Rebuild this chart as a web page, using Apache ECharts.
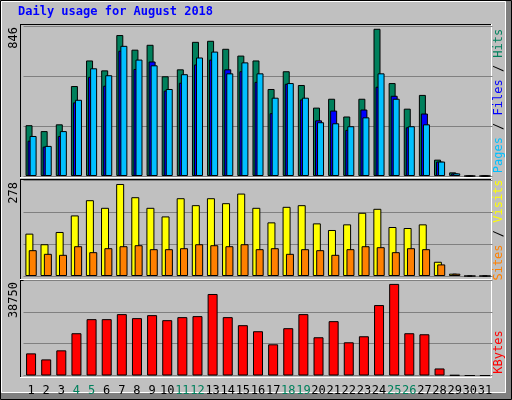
<!DOCTYPE html>
<html><head><meta charset="utf-8">
<script src="https://cdn.jsdelivr.net/npm/echarts@6/dist/echarts.min.js"></script>
<style>html,body{margin:0;padding:0;background:#c0c0c0}#c{width:512px;height:400px}</style>
</head><body><div id="c"></div>
<script>
const days = ['1','2','3','4','5','6','7','8','9','10','11','12','13','14','15','16','17','18','19','20','21','22','23','24','25','26','27','28','29','30','31'];
const weekendDays = ['4','5','11','12','18','19','25','26'];
const hits  = [292,258,297,517,664,607,810,726,754,573,613,771,777,731,692,664,500,602,523,393,444,342,444,846,534,387,466,94,21,0,0];
const pages = [203,169,230,423,570,519,720,615,658,491,536,641,669,613,602,541,361,530,440,320,376,265,382,513,461,280,359,83,15,0,0];
const files = [230,173,258,438,619,579,748,669,636,500,585,681,715,590,653,590,450,534,450,309,303,286,337,590,444,286,297,83,15,0,0];
const visits = [128,96,133,183,229,206,278,238,206,180,235,214,235,220,249,206,162,209,214,159,139,156,191,203,148,145,156,43,7,0,0];
const sites  = [78,67,64,90,72,84,90,93,81,81,84,96,93,90,96,81,84,67,81,78,64,81,90,87,72,84,81,35,7,0,0];
const kbytes = [9366,6811,10643,17880,23840,23840,25970,24270,25540,23410,24690,25120,34480,24690,21290,18730,13200,20010,25970,16180,22990,14050,16600,29800,38750,17880,17450,2980,150,0,0];
const maxLabels = ['846','278','38750'];

const C = {hits:'#00805c', files:'#00c0ff', pages:'#0000ff', visits:'#ffff00', sites:'#ff8000', kb:'#ff0000'};
const font = 'DejaVu Sans Mono';
const chart = echarts.init(document.getElementById('c'));
const grids = [{top:26,height:150},{top:180,height:96},{top:280,height:95.5}];
const maxes = [862,290,40400];
function xa(i){
  return {type:'category', gridIndex:i, data: days.map(d=>({value:d, textStyle:{color: weekendDays.includes(d)?'#00805c':'#000'}})),
    axisLine:{show:false}, axisTick:{show:false},
    axisLabel:{show:i===2, margin:9, fontFamily:font, fontSize:12, interval:0}};
}
function ya(i){
  return {type:'value', gridIndex:i, min:0, max:maxes[i], interval:maxes[i]/3, axisLabel:{show:false},
    axisLine:{show:false}, axisTick:{show:false}, splitLine:{lineStyle:{color:'#808080',width:1}}};
}
const bs = {borderColor:'#000', borderWidth:1};
function frame(y1,y2){
  return [
    {type:'line', shape:{x1:20.5,y1:y1+0.5,x2:491,y2:y1+0.5}, style:{stroke:'#000',lineWidth:1}},
    {type:'line', shape:{x1:20.5,y1:y1,x2:20.5,y2:y2}, style:{stroke:'#000',lineWidth:1}},
    {type:'line', shape:{x1:20,y1:y2+0.5,x2:491.5,y2:y2+0.5}, style:{stroke:'#fff',lineWidth:1}},
    {type:'line', shape:{x1:491.5,y1:y1,x2:491.5,y2:y2+1}, style:{stroke:'#fff',lineWidth:1}}
  ];
}
function vlabel(txt,y){
  return {type:'text', x:14, y:y, rotation:Math.PI/2, style:{text:txt, font:'12px '+font, fill:'#000', align:'right', verticalAlign:'middle'}};
}
const g = [
  {type:'rect', shape:{x:0.5,y:0.5,width:511,height:399}, style:{fill:'#c0c0c0',stroke:'#000',lineWidth:1}},
  {type:'rect', shape:{x:1.5,y:1.5,width:504,height:391}, style:{fill:'none',stroke:'#fff',lineWidth:1}},
  {type:'rect', shape:{x:506,y:1,width:5,height:398}, style:{fill:'#808080'}},
  {type:'rect', shape:{x:1,y:393,width:510,height:6}, style:{fill:'#808080'}},
  {type:'text', x:18, y:12, style:{text:'Daily usage for August 2018', font:'bold 12px '+font, fill:'#0000ff', verticalAlign:'middle'}},
  ...frame(24,177), ...frame(179,279), ...frame(280,377),
  vlabel(maxLabels[0],27), vlabel(maxLabels[1],182), vlabel(maxLabels[2],282),
  {type:'text', x:499, y:101, rotation:Math.PI/2, style:{rich:{p:{fill:C.files},f:{fill:C.pages},h:{fill:C.hits},s:{fill:'#000'}},
    text:'{p|Pages}{s| / }{f|Files}{s| / }{h|Hits}', font:'12px '+font, align:'center', verticalAlign:'middle'}},
  {type:'text', x:499, y:230, rotation:Math.PI/2, style:{rich:{a:{fill:C.sites},b:{fill:C.visits},s:{fill:'#000'}},
    text:'{a|Sites}{s| / }{b|Visits}', font:'12px '+font, align:'center', verticalAlign:'middle'}},
  {type:'text', x:499, y:352, rotation:Math.PI/2, style:{text:'KBytes', fill:C.kb, font:'12px '+font, align:'center', verticalAlign:'middle'}}
];
chart.setOption({
  animation:false,
  grid: grids.map(q=>({left:23.5, width:469, top:q.top, height:q.height})),
  xAxis:[xa(0),xa(1),xa(2)],
  yAxis:[ya(0),ya(1),ya(2)],
  graphic:{elements:g},
  series:[
    {type:'bar', xAxisIndex:0, yAxisIndex:0, data:hits, barWidth:7, barGap:'-71%', itemStyle:{color:C.hits,...bs}},
    {type:'bar', xAxisIndex:0, yAxisIndex:0, data:pages, barWidth:7, barGap:'-71%', itemStyle:{color:C.pages,...bs}},
    {type:'bar', xAxisIndex:0, yAxisIndex:0, data:files, barWidth:7, barGap:'-71%', itemStyle:{color:C.files,...bs}},
    {type:'bar', xAxisIndex:1, yAxisIndex:1, data:visits, barWidth:8, barGap:'-58%', itemStyle:{color:C.visits,...bs}},
    {type:'bar', xAxisIndex:1, yAxisIndex:1, data:sites, barWidth:8, barGap:'-58%', itemStyle:{color:C.sites,...bs}},
    {type:'bar', xAxisIndex:2, yAxisIndex:2, data:kbytes, barWidth:10, itemStyle:{color:C.kb,...bs}}
  ]
});
</script></body></html>
